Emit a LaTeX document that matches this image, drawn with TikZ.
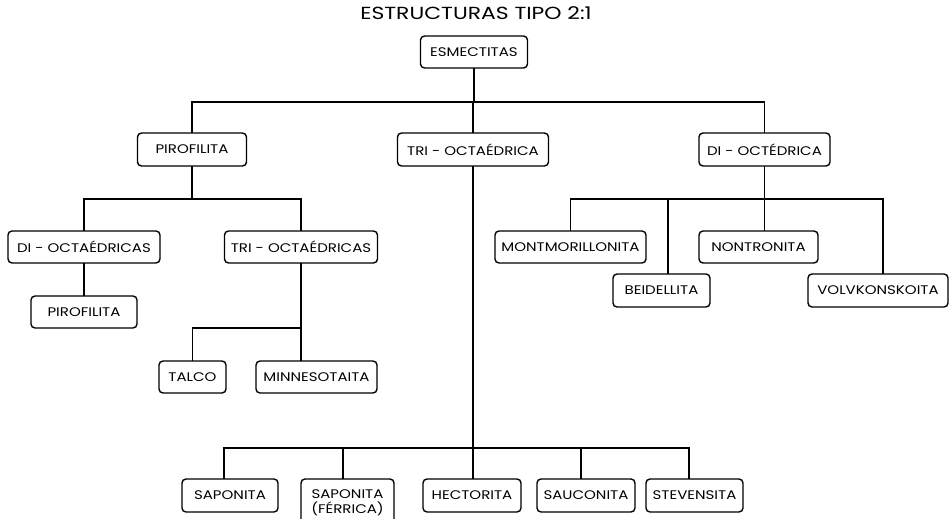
\documentclass[tikz,border=0pt]{standalone}
\usepackage{fontspec}
\setmainfont{Poppins}
\newfontfamily\boxfont[FakeStretch=1.2]{Poppins}
\newfontfamily\titlefont[FakeStretch=1.25]{Poppins}
\begin{document}
\begin{tikzpicture}[x=1pt,y=-1pt,
  box/.style={draw=black, line width=1.4pt, rounded corners=4pt, fill=white,
    inner sep=0pt, minimum height=32pt, align=center,
    font=\boxfont\fontsize{12.5}{12.5}\selectfont},
  link/.style={draw=black, line width=1.2pt, line cap=rect}]
\useasboundingbox (0,0) rectangle (951,519);

% title
\node[font=\titlefont\fontsize{17.5}{17.5}\selectfont] (title) at (476,13) {ESTRUCTURAS TIPO 2:1};

% level 0 and 1
\node[box, minimum width=107pt] (esm)  at (474,52)   {ESMECTITAS};
\node[box, minimum width=109pt, minimum height=33pt] (piro) at (192,149.5) {PIROFILITA};
\node[box, minimum width=151pt, minimum height=33pt] (trio) at (473,149.5) {TRI - OCTAÉDRICA};
\node[box, minimum width=131pt, minimum height=33pt] (dio)  at (764.5,149.5) {DI - OCTÉDRICA};

% pirofilita branch
\node[box, minimum width=152pt] (dioct)  at (84,247)    {DI - OCTAÉDRICAS};
\node[box, minimum width=153pt] (trioct) at (301,247)   {TRI - OCTAÉDRICAS};
\node[box, minimum width=106pt] (piro2)  at (84,312)    {PIROFILITA};
\node[box, minimum width=67pt]  (talco)  at (192.5,377) {TALCO};
\node[box, minimum width=121pt] (minn)   at (316.5,377) {MINNESOTAITA};

% di-octédrica branch
\node[box, minimum width=151pt] (mont) at (570.5,247)   {MONTMORILLONITA};
\node[box, minimum width=119pt] (nont) at (758.5,247)   {NONTRONITA};
\node[box, minimum width=97pt, minimum height=33pt]  (beid) at (661.5,290.5) {BEIDELLITA};
\node[box, minimum width=140pt, minimum height=33pt] (volv) at (878,290.5)   {VOLVKONSKOITA};

% tri-octaédrica branch
\node[box, minimum width=96pt, minimum height=33pt] (sap)  at (230,495.5) {SAPONITA};
\node[box, minimum width=93pt, minimum height=48pt, font=\boxfont\fontsize{12.5}{15}\selectfont] (sapf) at (347.5,503) {SAPONITA\\(FÉRRICA)};
\node[box, minimum width=98pt, minimum height=33pt] (hect) at (472,495.5) {HECTORITA};
\node[box, minimum width=98pt, minimum height=33pt] (sauc) at (586,495.5) {SAUCONITA};
\node[box, minimum width=97pt, minimum height=33pt] (stev) at (694.5,495.5) {STEVENSITA};

% bus junctions
\coordinate (busA) at (474,102);
\coordinate (busP) at (192,199);
\coordinate (busT) at (301,328);
\coordinate (busD) at (764.5,199);
\coordinate (busB) at (473,448);

% top level
\draw[link] (esm.south) -- (busA);
\draw[link] (piro.north) |- (busA);
\draw[link] (trio.north) -- (trio.north |- busA);
\draw[link] (dio.north) |- (busA);

% pirofilita
\draw[link] (piro.south) -- (busP);
\draw[link] (dioct.north) |- (busP);
\draw[link] (trioct.north) |- (busP);
\draw[link] (dioct.south) -- (piro2.north);
\draw[link] (trioct.south) -- (trioct.south |- minn.north);
\draw[link] (talco.north) |- (busT);

% di-octédrica
\draw[link] (dio.south) -- (dio.south |- nont.north);
\draw[link] (mont.north) |- (busD);
\draw[link] ([xshift=6.5pt]beid.north) |- (busD);
\draw[link] ([xshift=5pt]volv.north) |- (busD);

% tri-octaédrica
\draw[link] (trio.south) -- (trio.south |- hect.north);
\draw[link] ([xshift=-6pt]sap.north) |- (busB);
\draw[link] ([xshift=-4.5pt]sapf.north) |- (busB);
\draw[link] ([xshift=-5pt]sauc.north) |- (busB);
\draw[link] ([xshift=-5.5pt]stev.north) |- (busB);
\end{tikzpicture}
\end{document}
